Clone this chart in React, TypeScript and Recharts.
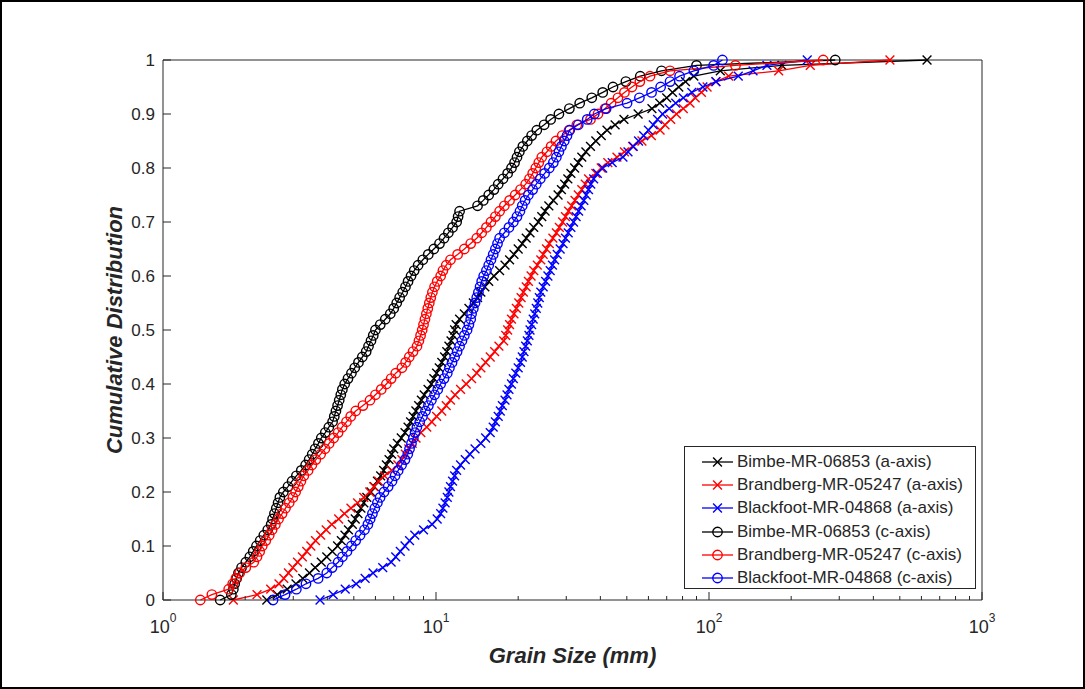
import React from 'react';
import { ScatterChart, Scatter, XAxis, YAxis, Legend, Label } from 'recharts';

// cumulative fraction shared by every sample curve
const cumulative = [
  0, 0.01, 0.02, 0.03, 0.04, 0.05, 0.06, 0.07, 0.08, 0.09,
  0.1, 0.11, 0.12, 0.13, 0.14, 0.15, 0.16, 0.17, 0.18, 0.19,
  0.2, 0.21, 0.22, 0.23, 0.24, 0.25, 0.26, 0.27, 0.28, 0.29,
  0.3, 0.31, 0.32, 0.33, 0.34, 0.35, 0.36, 0.37, 0.38, 0.39,
  0.4, 0.41, 0.42, 0.43, 0.44, 0.45, 0.46, 0.47, 0.48, 0.49,
  0.5, 0.51, 0.52, 0.53, 0.54, 0.55, 0.56, 0.57, 0.58, 0.59,
  0.6, 0.61, 0.62, 0.63, 0.64, 0.65, 0.66, 0.67, 0.68, 0.69,
  0.7, 0.71, 0.72, 0.73, 0.74, 0.75, 0.76, 0.77, 0.78, 0.79,
  0.8, 0.81, 0.82, 0.83, 0.84, 0.85, 0.86, 0.87, 0.88, 0.89,
  0.9, 0.91, 0.92, 0.93, 0.94, 0.95, 0.96, 0.97, 0.98, 0.99,
  1,
];

// grain sizes (mm) at each cumulative level
const bimbeA = [
  2.4, 2.62, 2.85, 3.07, 3.25, 3.44, 3.61, 3.8, 3.98, 4.17,
  4.36, 4.5, 4.64, 4.78, 4.94, 5.06, 5.18, 5.31, 5.44, 5.58,
  5.78, 5.94, 6.1, 6.27, 6.43, 6.58, 6.73, 6.88, 7.0, 7.22,
  7.46, 7.7, 7.9, 8.07, 8.25, 8.44, 8.64, 8.84, 9.05, 9.35,
  9.62, 9.82, 10.05, 10.28, 10.5, 10.75, 10.95, 11.15, 11.35, 11.55,
  11.7, 11.85, 12.2, 12.7, 13.2, 13.7, 14.2, 14.6, 15.1, 15.6,
  16.3, 17.1, 17.9, 18.6, 19.3, 20.0, 20.7, 21.4, 22.1, 22.8,
  23.7, 24.4, 25.1, 25.9, 26.9, 28.0, 28.8, 29.6, 30.4, 31.2,
  32.2, 33.2, 34.2, 35.4, 36.8, 38.5, 40.3, 42.3, 45.3, 48.8,
  55.0, 61.8, 66.0, 70.0, 73.5, 77.5, 82.0, 88.0, 110, 185,
  629,
];

const brandbergA = [
  1.81, 2.21, 2.48, 2.66, 2.77, 2.88, 2.99, 3.11, 3.24, 3.36,
  3.48, 3.62, 3.78, 3.96, 4.15, 4.4, 4.62, 4.88, 5.16, 5.44,
  5.72, 5.92, 6.16, 6.48, 6.88, 7.25, 7.5, 7.72, 7.95, 8.18,
  8.45, 8.8, 9.25, 9.65, 10.05, 10.5, 10.9, 11.3, 11.75, 12.3,
  12.9, 13.5, 14.1, 14.6, 15.2, 15.8, 16.4, 17.0, 17.7, 18.0,
  18.3, 18.6, 18.9, 19.3, 19.7, 20.1, 20.5, 20.9, 21.4, 21.8,
  22.3, 22.8, 23.5, 24.2, 24.7, 25.4, 26.0, 26.8, 27.6, 28.3,
  29.1, 29.8, 30.6, 31.4, 32.3, 33.2, 34.2, 35.2, 36.2, 38.5,
  40.3, 42.6, 46.0, 49.0, 52.5, 56.8, 61.5, 66.2, 69.0, 72.4,
  76.0, 80.5, 85.2, 89.0, 93.8, 98.4, 106, 118, 180, 235,
  460,
];

const blackfootA = [
  3.76, 4.2, 4.65, 5.1, 5.5, 5.88, 6.38, 6.85, 7.12, 7.4,
  7.7, 8.0, 8.36, 9.0, 9.68, 10.1, 10.4, 10.6, 10.8, 11.0,
  11.15, 11.3, 11.5, 11.7, 11.9, 12.3, 12.8, 13.3, 13.9, 14.6,
  15.2, 15.8, 16.2, 16.5, 16.9, 17.2, 17.5, 17.9, 18.2, 18.5,
  18.9, 19.2, 19.6, 20.0, 20.4, 20.7, 21.0, 21.3, 21.6, 21.9,
  22.1, 22.4, 22.7, 23.0, 23.3, 23.6, 23.9, 24.2, 24.7, 25.2,
  25.7, 26.2, 26.7, 27.2, 27.8, 28.5, 29.2, 29.8, 30.5, 31.2,
  31.9, 32.6, 33.3, 34.0, 34.8, 35.5, 36.2, 36.9, 37.8, 39.0,
  40.8, 44.2, 48.4, 50.5, 52.8, 55.2, 57.6, 60.0, 62.5, 64.8,
  67.6, 71.5, 75.5, 80.5, 86.5, 95.0, 106, 128, 145, 163,
  229,
];

const bimbeC = [
  1.62, 1.78, 1.81, 1.83, 1.86, 1.89, 1.94, 2.01, 2.08, 2.14,
  2.2, 2.27, 2.34, 2.42, 2.49, 2.52, 2.56, 2.6, 2.64, 2.68,
  2.76, 2.87, 2.97, 3.08, 3.21, 3.33, 3.43, 3.52, 3.61, 3.71,
  3.8, 3.93, 4.05, 4.18, 4.24, 4.3, 4.36, 4.42, 4.48, 4.54,
  4.63, 4.76, 4.9, 5.04, 5.2, 5.37, 5.55, 5.66, 5.78, 5.89,
  6.0, 6.25, 6.52, 6.8, 7.0, 7.18, 7.36, 7.55, 7.73, 7.9,
  8.1, 8.32, 8.6, 8.95, 9.37, 9.82, 10.3, 10.7, 11.1, 11.5,
  11.9, 12.05, 12.2, 14.2, 14.9, 15.6, 16.3, 16.9, 17.6, 18.3,
  18.9, 19.4, 19.8, 20.2, 20.8, 21.6, 22.4, 23.4, 24.9, 26.3,
  28.2, 30.8, 33.6, 37.2, 40.8, 44.5, 49.6, 56.0, 67.0, 90.0,
  290,
];

const brandbergC = [
  1.37, 1.51, 1.74, 1.8, 1.85, 1.91, 2.01, 2.15, 2.21, 2.26,
  2.31, 2.38, 2.45, 2.51, 2.58, 2.65, 2.73, 2.81, 2.9, 2.99,
  3.06, 3.13, 3.2, 3.28, 3.4, 3.51, 3.63, 3.78, 3.92, 4.06,
  4.22, 4.38, 4.53, 4.7, 4.87, 5.08, 5.4, 5.73, 6.0, 6.3,
  6.58, 6.85, 7.12, 7.5, 7.74, 7.98, 8.24, 8.52, 8.66, 8.78,
  8.9, 9.0, 9.11, 9.22, 9.33, 9.45, 9.57, 9.7, 9.88, 10.1,
  10.4, 10.6, 10.9, 11.3, 12.0, 12.7, 13.4, 14.1, 14.7, 15.3,
  15.9, 16.5, 17.1, 17.8, 18.6, 19.5, 20.4, 21.3, 22.0, 22.6,
  23.2, 23.8, 24.4, 25.5, 26.4, 27.5, 29.0, 30.7, 32.8, 36.8,
  39.2, 41.6, 43.8, 46.4, 49.0, 52.2, 55.8, 60.8, 72.0, 125,
  262,
];

const blackfootC = [
  2.53, 2.8, 3.08, 3.34, 3.7, 3.98, 4.16, 4.38, 4.54, 4.72,
  4.9, 5.08, 5.27, 5.47, 5.63, 5.74, 5.85, 5.97, 6.1, 6.24,
  6.45, 6.68, 6.9, 7.08, 7.27, 7.48, 7.7, 7.88, 8.0, 8.13,
  8.26, 8.38, 8.51, 8.72, 8.92, 9.15, 9.38, 9.62, 9.88, 10.15,
  10.4, 10.7, 11.0, 11.2, 11.45, 11.7, 11.95, 12.2, 12.45, 12.7,
  13.0, 13.2, 13.4, 13.5, 13.7, 13.9, 14.1, 14.3, 14.5, 14.7,
  14.95, 15.3, 15.6, 15.9, 16.2, 16.5, 16.8, 17.1, 17.8, 18.5,
  19.2, 19.8, 20.3, 20.7, 21.2, 21.8, 22.6, 23.3, 24.1, 25.0,
  26.0, 26.9, 27.6, 28.2, 28.8, 29.5, 30.2, 30.9, 33.2, 35.8,
  38.0, 42.0, 50.1, 55.6, 61.6, 66.5, 72.0, 78.0, 88.0, 104,
  112,
];

const seriesNames = [
  'Bimbe-MR-06853 (a-axis)',
  'Brandberg-MR-05247 (a-axis)',
  'Blackfoot-MR-04868 (a-axis)',
  'Bimbe-MR-06853 (c-axis)',
  'Brandberg-MR-05247 (c-axis)',
  'Blackfoot-MR-04868 (c-axis)',
];

const xTicks = [
  1, 2, 3, 4, 5, 6, 7, 8, 9,
  10, 20, 30, 40, 50, 60, 70, 80, 90,
  100, 200, 300, 400, 500, 600, 700, 800, 900,
  1000,
];
const xMajor = [1, 10, 100, 1000];
const yTicks = [0, 0.1, 0.2, 0.3, 0.4, 0.5, 0.6, 0.7, 0.8, 0.9, 1];
const yLabels = ['0', '0.1', '0.2', '0.3', '0.4', '0.5', '0.6', '0.7', '0.8', '0.9', '1'];

const AXIS = '#262626';
const FONT = '"Liberation Sans", Arial, Helvetica, sans-serif';

const series = [
  { name: seriesNames[0], sizes: bimbeA, color: '#000000', marker: 'x' },
  { name: seriesNames[1], sizes: brandbergA, color: '#ff0000', marker: 'x' },
  { name: seriesNames[2], sizes: blackfootA, color: '#0000ff', marker: 'x' },
  { name: seriesNames[3], sizes: bimbeC, color: '#000000', marker: 'o' },
  { name: seriesNames[4], sizes: brandbergC, color: '#ff0000', marker: 'o' },
  { name: seriesNames[5], sizes: blackfootC, color: '#0000ff', marker: 'o' },
];

const toPoints = (sizes: number[]) => sizes.map((s, i) => ({ size: s, cdf: cumulative[i] }));

const Marker = ({ cx, cy, color, kind }: any) => {
  if (cx == null || cy == null) return <g />;
  if (kind === 'o') {
    return <circle cx={cx} cy={cy} r={4.7} fill="none" stroke={color} strokeWidth={1.4} />;
  }
  const s = 4.4;
  return (
    <path
      d={`M${cx - s},${cy - s}L${cx + s},${cy + s}M${cx - s},${cy + s}L${cx + s},${cy - s}`}
      fill="none"
      stroke={color}
      strokeWidth={1.4}
    />
  );
};

const isMajor = (v: number) => xMajor.includes(v);

const BottomTick = ({ x, y, payload }: any) => {
  const v = payload.value;
  const major = isMajor(v);
  return (
    <g>
      <line x1={x} y1={y} x2={x} y2={y - (major ? 8 : 4)} stroke={AXIS} strokeWidth={1} />
      {major && (
        <text x={x} y={y + 33} textAnchor="middle" fill={AXIS} fontSize={18} fontFamily={FONT}>
          <tspan>10</tspan>
          <tspan dy={-11} fontSize={12}>{Math.round(Math.log10(v))}</tspan>
        </text>
      )}
    </g>
  );
};

const TopTick = ({ x, y, payload }: any) => (
  <line x1={x} y1={y} x2={x} y2={y + (isMajor(payload.value) ? 8 : 4)} stroke={AXIS} strokeWidth={1} />
);

const LeftTick = ({ x, y, payload, index }: any) => (
  <g>
    <line x1={x} y1={y} x2={x + 8} y2={y} stroke={AXIS} strokeWidth={1} />
    <text x={x - 8} y={y + 6} textAnchor="end" fill={AXIS} fontSize={17} fontFamily={FONT}>
      {yLabels[index] ?? String(payload.value)}
    </text>
  </g>
);

const RightTick = ({ x, y }: any) => (
  <line x1={x} y1={y} x2={x - 8} y2={y} stroke={AXIS} strokeWidth={1} />
);

const YTitle = () => (
  <text
    transform="translate(114,330) rotate(-90)"
    textAnchor="middle"
    dominantBaseline="central"
    fontSize={22}
    fontWeight="bold"
    fontStyle="italic"
    fontFamily={FONT}
    fill={AXIS}
  >
    Cumulative Distribution
  </text>
);

const XTitle = () => (
  <text
    x={572.5}
    y={663}
    textAnchor="middle"
    fontSize={22}
    fontWeight="bold"
    fontStyle="italic"
    fontFamily={FONT}
    fill={AXIS}
  >
    Grain Size (mm)
  </text>
);

const LegendBox = () => (
  <div
    style={{
      width: 292,
      height: 143,
      boxSizing: 'border-box',
      border: `1px solid ${AXIS}`,
      background: '#fff',
      padding: '3px 0',
      fontFamily: FONT,
    }}
  >
    {series.map((s) => (
      <div key={s.name} style={{ display: 'flex', alignItems: 'center', height: 23.3 }}>
        <svg width={52} height={20} style={{ flex: 'none' }}>
          <line x1={17} y1={10} x2={48} y2={10} stroke={s.color} strokeWidth={1.3} />
          <Marker cx={32.5} cy={10} color={s.color} kind={s.marker} />
        </svg>
        <span style={{ fontSize: 17, color: AXIS, whiteSpace: 'nowrap' }}>{s.name}</span>
      </div>
    ))}
  </div>
);

export default function App() {
  return (
    <div style={{ position: 'absolute', left: 0, top: 0, width: 1085, height: 689, background: '#fff' }}>
      <ScatterChart width={1085} height={689} margin={{ top: 59, right: 102, bottom: 0, left: 0 }}>
        <XAxis
          dataKey="size"
          type="number"
          scale="log"
          domain={[1, 1000]}
          ticks={xTicks}
          interval={0}
          height={89}
          tickSize={0}
          tickMargin={0}
          axisLine={{ stroke: AXIS, strokeWidth: 1 }}
          tickLine={false}
          tick={(p: any) => <BottomTick {...p} />}
        >
          <Label content={<XTitle />} />
        </XAxis>
        <XAxis
          xAxisId="top"
          orientation="top"
          type="number"
          scale="log"
          domain={[1, 1000]}
          ticks={xTicks}
          interval={0}
          height={1}
          tickSize={0}
          tickMargin={0}
          axisLine={{ stroke: AXIS, strokeWidth: 1 }}
          tickLine={false}
          tick={(p: any) => <TopTick {...p} />}
        />
        <YAxis
          dataKey="cdf"
          type="number"
          domain={[0, 1]}
          ticks={yTicks}
          interval={0}
          width={163}
          tickSize={0}
          tickMargin={0}
          axisLine={{ stroke: AXIS, strokeWidth: 1 }}
          tickLine={false}
          tick={(p: any) => <LeftTick {...p} />}
        >
          <Label content={<YTitle />} />
        </YAxis>
        <YAxis
          yAxisId="right"
          orientation="right"
          type="number"
          domain={[0, 1]}
          ticks={yTicks}
          interval={0}
          width={1}
          tickSize={0}
          tickMargin={0}
          axisLine={{ stroke: AXIS, strokeWidth: 1 }}
          tickLine={false}
          tick={(p: any) => <RightTick {...p} />}
        />
        {series.map((s) => (
          <Scatter
            key={s.name}
            name={s.name}
            data={toPoints(s.sizes)}
            line={{ stroke: s.color, strokeWidth: 1.3 }}
            lineType="joint"
            shape={(p: any) => <Marker cx={p.cx} cy={p.cy} color={s.color} kind={s.marker} />}
            isAnimationActive={false}
          />
        ))}
        <Legend
          layout="vertical"
          align="center"
          verticalAlign="middle"
          content={() => <LegendBox />}
          wrapperStyle={{ position: 'absolute', left: 684, top: 446, width: 292, height: 143 }}
        />
      </ScatterChart>
      <div
        style={{
          position: 'absolute',
          inset: 0,
          border: '2px solid #000',
          boxSizing: 'border-box',
          pointerEvents: 'none',
        }}
      />
    </div>
  );
}
